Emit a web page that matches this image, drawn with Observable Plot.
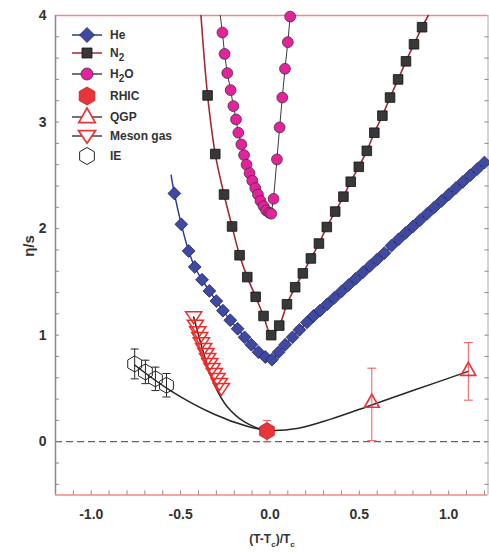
<!DOCTYPE html>
<html><head><meta charset="utf-8">
<script src="https://cdn.jsdelivr.net/npm/d3@7"></script>
<script src="https://cdn.jsdelivr.net/npm/@observablehq/plot@0.6"></script>
<style>html,body{margin:0;padding:0;background:#fff;} svg{display:block}</style>
</head><body><div id="chart"></div>
<script>
// ---- data ----
const He_x = [-0.535,-0.496,-0.455,-0.421,-0.380,-0.339,-0.300,-0.263,-0.222,-0.181,-0.142,-0.104,-0.064,-0.026,0.011,0.048,0.085,0.126,0.165,0.207,0.244,0.28,0.32,0.36,0.40,0.44,0.48,0.52,0.56,0.60,0.64,0.68,0.72,0.76,0.80,0.84,0.88,0.92,0.96,1.00,1.04,1.08,1.12,1.16,1.20];
const He_y = [2.33,2.04,1.79,1.64,1.52,1.415,1.32,1.23,1.14,1.06,0.98,0.91,0.84,0.795,0.77,0.84,0.91,0.98,1.05,1.12,1.18,1.23,1.29,1.35,1.41,1.47,1.53,1.59,1.65,1.71,1.77,1.84,1.90,1.96,2.02,2.08,2.14,2.20,2.26,2.32,2.38,2.44,2.50,2.56,2.62];
const He_lineStart = {x: -0.553, y: 2.50};

const N2_x = [-0.349,-0.306,-0.257,-0.212,-0.170,-0.127,-0.080,-0.036,0.007,0.052,0.095,0.141,0.184,0.229,0.274,0.318,0.365,0.411,0.452,0.497,0.542,0.584,0.629,0.672,0.717,0.761,0.806,0.851];
const N2_y = [3.25,2.70,2.32,2.02,1.75,1.545,1.36,1.18,1.00,1.09,1.29,1.45,1.58,1.72,1.86,2.015,2.16,2.30,2.44,2.58,2.73,2.90,3.06,3.23,3.40,3.57,3.73,3.89];
const N2_lineEnds = [{x: -0.386, y: 4.0}, {x: 0.886, y: 4.0}];

const H2O_x = [-0.266,-0.254,-0.239,-0.220,-0.205,-0.190,-0.177,-0.160,-0.145,-0.131,-0.114,-0.099,-0.082,-0.067,-0.053,-0.036,-0.021,-0.004,0.007,0.020,0.039,0.054,0.069,0.084,0.100,0.113];
const H2O_y = [3.84,3.64,3.46,3.30,3.15,3.025,2.90,2.79,2.69,2.60,2.52,2.45,2.38,2.32,2.26,2.21,2.17,2.15,2.14,2.28,2.65,2.95,3.23,3.50,3.75,3.99];
const H2O_lineStart = {x: -0.278, y: 4.0};

const RHIC_x = [-0.017], RHIC_y = [0.10], RHIC_lo = [0.0], RHIC_hi = [0.20];

const QGP_x = [0.570, 1.110], QGP_y = [0.37, 0.67], QGP_lo = [0.01, 0.39], QGP_hi = [0.69, 0.93];

const Meson_x = [-0.427,-0.417,-0.404,-0.393,-0.384,-0.371,-0.358,-0.349,-0.337,-0.324,-0.311,-0.296,-0.283,-0.272];
const Meson_y = [1.171,1.093,1.030,0.977,0.927,0.874,0.827,0.780,0.734,0.687,0.640,0.593,0.546,0.499];

const IE_x = [-0.757,-0.697,-0.641,-0.579], IE_y = [0.73,0.655,0.59,0.53], IE_err = [0.14,0.11,0.11,0.11];

// theory curves (black)
const curveIE_x = [-0.757,-0.557,-0.315,-0.128,-0.017,0.151,0.337,0.57,0.80,1.11];
const curveIE_y = [0.72,0.48,0.26,0.145,0.108,0.124,0.21,0.345,0.48,0.66];
const curveMeson_x = [-0.427,-0.371,-0.315,-0.240,-0.147,-0.045,-0.017];
const curveMeson_y = [1.17,0.83,0.55,0.33,0.19,0.115,0.108];

// axis ticks
const xTickLabels = [-1.0,-0.5,0.0,0.5,1.0];
const yTickLabels = [0,1,2,3,4];
const xMinorTicks = [-1.1,-1.0,-0.9,-0.8,-0.7,-0.6,-0.5,-0.4,-0.3,-0.2,-0.1,0,0.1,0.2,0.3,0.4,0.5,0.6,0.7,0.8,0.9,1.0,1.1,1.2];
const yMinorTicks = [-0.4,-0.2,0,0.2,0.4,0.6,0.8,1,1.2,1.4,1.6,1.8,2,2.2,2.4,2.6,2.8,3,3.2,3.4,3.6,3.8];

// ---- tables ----
const zip = (xs, ys) => xs.map((x, i) => ({x, y: ys[i]}));
const He = zip(He_x, He_y);
const HeLine = [He_lineStart, ...He];
const N2 = zip(N2_x, N2_y);
const N2Line = [N2_lineEnds[0], ...N2, N2_lineEnds[1]];
const H2O = zip(H2O_x, H2O_y);
const H2OLine = [H2O_lineStart, ...H2O];
const RHIC = RHIC_x.map((x,i)=>({x, y: RHIC_y[i], lo: RHIC_lo[i], hi: RHIC_hi[i]}));
const QGP = QGP_x.map((x,i)=>({x, y: QGP_y[i], lo: QGP_lo[i], hi: QGP_hi[i]}));
const Meson = zip(Meson_x, Meson_y);
const IE = IE_x.map((x,i)=>({x, y: IE_y[i], lo: IE_y[i]-IE_err[i], hi: IE_y[i]+IE_err[i]}));
const curveIE = zip(curveIE_x, curveIE_y);
const curveMeson = zip(curveMeson_x, curveMeson_y);

// ---- symbols ----
const sym = fn => ({draw(c, size){ fn(c, Math.sqrt(size/Math.PI)); }});
const diamondSym = sym((c,r)=>{c.moveTo(0,-r);c.lineTo(r,0);c.lineTo(0,r);c.lineTo(-r,0);c.closePath();});
const squareSym = sym((c,r)=>{c.moveTo(-r,-r);c.lineTo(r,-r);c.lineTo(r,r);c.lineTo(-r,r);c.closePath();});
const hexSym = sym((c,r)=>{for(let k=0;k<6;k++){const a=-Math.PI/2+k*Math.PI/3;const px=r*Math.cos(a),py=r*Math.sin(a);k?c.lineTo(px,py):c.moveTo(px,py);}c.closePath();});
const triUp = sym((c,r)=>{c.moveTo(0,-r);c.lineTo(r*0.92,r*0.62);c.lineTo(-r*0.92,r*0.62);c.closePath();});
const triDown = sym((c,r)=>{c.moveTo(0,r*0.8);c.lineTo(r*0.95,-r*0.6);c.lineTo(-r*0.95,-r*0.6);c.closePath();});
const capSym = sym((c,r)=>{c.moveTo(-r,0);c.lineTo(r,0);});
const circleSym = sym((c,r)=>{c.moveTo(r,0);c.arc(0,0,r,0,2*Math.PI);c.closePath();});

const C = {
  heFill:"#3e4aa2", heStroke:"#1e2260", heLine:"#2e3a9c",
  n2Fill:"#383838", n2Stroke:"#111", n2Line:"#a02c36",
  h2oFill:"#e3239b", h2oStroke:"#4a2a3e", h2oLine:"#3a3a3a",
  red:"#e8353b", redLight:"#ec5a5e", black:"#262626", frameRed:"#f08a8a", axisGray:"#8a8a8a", text:"#333"
};

const svg = Plot.plot({
  width: 489, height: 553,
  marginTop: 15, marginBottom: 58.5, marginLeft: 55, marginRight: 1.5,
  x: {domain: [-1.2, 1.22], label: null},
  y: {domain: [-0.5, 4], label: null},
  style: {fontFamily: "'Liberation Sans', Arial, sans-serif", background: "#fff"},
  marks: [
    Plot.ruleY([0], {stroke: "#666", strokeDasharray: "7,4", strokeWidth: 1.2}),
    Plot.ruleY([4], {stroke: C.frameRed, strokeWidth: 1.5}),
    Plot.ruleY([-0.5], {stroke: C.frameRed, strokeWidth: 1.5}),
    Plot.ruleX([-1.2], {stroke: C.axisGray, strokeWidth: 1.5}),
    Plot.ruleX([1.22], {stroke: "#aaa", strokeWidth: 1}),
    Plot.axisY(yMinorTicks, {anchor: "left", tickSize: 4, dx: 4, tickFormat: () => "", stroke: C.axisGray, label: null}),
    Plot.axisY(yMinorTicks, {anchor: "right", tickSize: 4, dx: -4, tickFormat: () => "", stroke: C.axisGray, label: null}),
    Plot.axisX(xMinorTicks, {anchor: "bottom", tickSize: 4, dy: -4, tickFormat: () => "", stroke: C.axisGray, label: null}),
    Plot.axisY(yTickLabels, {anchor: "left", tickSize: 0, tickPadding: 9, fontSize: 14, fontWeight: "bold", color: C.text, tickFormat: d => String(d), label: null}),
    Plot.axisX(xTickLabels, {anchor: "bottom", tickSize: 0, tickPadding: 14, fontSize: 14, fontWeight: "bold", color: C.text, tickFormat: d => d.toFixed(1), label: null}),

    // theory curves
    Plot.line(curveIE, {x: "x", y: "y", stroke: C.black, strokeWidth: 1.5, curve: "catmull-rom"}),
    Plot.line(curveMeson, {x: "x", y: "y", stroke: C.black, strokeWidth: 1.5, curve: "catmull-rom"}),

    // IE
    Plot.ruleX(IE, {x: "x", y1: "lo", y2: "hi", stroke: C.black, strokeWidth: 1}),
    Plot.dot(IE, {x: "x", y: "lo", symbol: capSym, r: 4, stroke: C.black, strokeWidth: 1}),
    Plot.dot(IE, {x: "x", y: "hi", symbol: capSym, r: 4, stroke: C.black, strokeWidth: 1}),
    Plot.dot(IE, {x: "x", y: "y", symbol: hexSym, r: 8, stroke: C.black, fill: "none", strokeWidth: 1}),

    // Meson gas
    Plot.dot(Meson, {x: "x", y: "y", symbol: triDown, r: 8.5, stroke: "#ee2b2b", fill: "none", strokeWidth: 1.5}),

    // He
    Plot.line(HeLine, {x: "x", y: "y", stroke: C.heLine, strokeWidth: 1.5, curve: "catmull-rom"}),
    Plot.dot(He, {x: "x", y: "y", symbol: diamondSym, r: 6.4, fill: C.heFill, stroke: C.heStroke, strokeWidth: 0.8}),

    // N2
    Plot.line(N2Line, {x: "x", y: "y", stroke: C.n2Line, strokeWidth: 1.6, curve: "catmull-rom"}),
    Plot.dot(N2, {x: "x", y: "y", symbol: squareSym, r: 4.8, fill: C.n2Fill, stroke: C.n2Stroke, strokeWidth: 0.8}),

    // H2O
    Plot.line(H2OLine, {x: "x", y: "y", stroke: C.h2oLine, strokeWidth: 1}),
    Plot.dot(H2O, {x: "x", y: "y", symbol: circleSym, r: 5.4, fill: C.h2oFill, stroke: C.h2oStroke, strokeWidth: 0.8}),

    // RHIC
    Plot.ruleX(RHIC, {x: "x", y1: "lo", y2: "hi", stroke: C.redLight, strokeWidth: 1}),
    Plot.dot(RHIC, {x: "x", y: "lo", symbol: capSym, r: 4, stroke: C.redLight, strokeWidth: 1}),
    Plot.dot(RHIC, {x: "x", y: "hi", symbol: capSym, r: 4, stroke: C.redLight, strokeWidth: 1}),
    Plot.dot(RHIC, {x: "x", y: "y", symbol: hexSym, r: 8.5, fill: C.red, stroke: "#b82024", strokeWidth: 0.8}),

    // QGP
    Plot.ruleX(QGP, {x: "x", y1: "lo", y2: "hi", stroke: C.redLight, strokeWidth: 1}),
    Plot.dot(QGP, {x: "x", y: "lo", symbol: capSym, r: 4.5, stroke: C.redLight, strokeWidth: 1}),
    Plot.dot(QGP, {x: "x", y: "hi", symbol: capSym, r: 4.5, stroke: C.redLight, strokeWidth: 1}),
    Plot.dot(QGP, {x: "x", y: "y", symbol: triUp, r: 8, fill: "none", stroke: C.red, strokeWidth: 1.7})
  ]
});

// ---- legend and axis titles ----
const g = d3.select(svg);
const legendItems = [
  {label: "He", sub: null, line: C.heLine, sym: diamondSym, r: 7.5, fill: C.heFill, stroke: C.heStroke, sw: 0.8},
  {label: "N", sub: "2", line: C.n2Line, sym: squareSym, r: 5, fill: C.n2Fill, stroke: C.n2Stroke, sw: 0.8},
  {label: "H", sub: "2", tail: "O", line: "#444", sym: circleSym, r: 6, fill: C.h2oFill, stroke: C.h2oStroke, sw: 0.8},
  {label: "RHIC", sub: null, line: null, sym: hexSym, r: 9, fill: C.red, stroke: "#b82024", sw: 0.8},
  {label: "QGP", sub: null, line: "#444", sym: triUp, r: 9, fill: "#fff", stroke: C.red, sw: 1.7},
  {label: "Meson gas", sub: null, line: "#444", sym: triDown, r: 9, fill: "#fff", stroke: C.red, sw: 1.7},
  {label: "IE", sub: null, line: null, sym: hexSym, r: 8.5, fill: "#fff", stroke: C.black, sw: 1}
];
const legendRowsY = [35, 53, 74, 96, 117, 136, 156];
const lg = g.append("g").attr("font-family", "'Liberation Sans', Arial, sans-serif").attr("text-anchor", "start");
legendItems.forEach((it, i) => {
  const y = legendRowsY[i];
  if (it.line) lg.append("line").attr("x1", 72).attr("x2", 102).attr("y1", y).attr("y2", y).attr("stroke", it.line).attr("stroke-width", 1.5);
  lg.append("path").attr("transform", `translate(87,${y})`)
    .attr("d", d3.symbol().type(it.sym).size(Math.PI * it.r * it.r)())
    .attr("fill", it.fill).attr("stroke", it.stroke).attr("stroke-width", it.sw);
  const t = lg.append("text").attr("x", 110).attr("y", y).attr("dy", "0.35em").attr("text-anchor", "start")
    .attr("font-size", 12).attr("font-weight", "bold").attr("fill", C.text).text(it.label);
  if (it.sub) t.append("tspan").attr("font-size", 10).attr("dy", "4").text(it.sub);
  if (it.tail) t.append("tspan").attr("font-size", 12).attr("dy", "-4").text(it.tail);
});

// y title
g.append("text").attr("transform", "translate(34,246) rotate(-90)").attr("text-anchor", "middle")
  .attr("font-size", 15).attr("font-weight", "bold").attr("fill", C.text)
  .attr("font-family", "'Liberation Sans', Arial, sans-serif").text("η/s");
// x title
const xt = g.append("text").attr("x", 272).attr("y", 543).attr("text-anchor", "middle")
  .attr("font-size", 12).attr("font-weight", "bold").attr("fill", C.text)
  .attr("font-family", "'Liberation Sans', Arial, sans-serif");
xt.append("tspan").text("(T-T");
xt.append("tspan").attr("font-size", 8).attr("dy", 4).text("c");
xt.append("tspan").attr("dy", -4).text(")/T");
xt.append("tspan").attr("font-size", 8).attr("dy", 4).text("c");

document.getElementById("chart").appendChild(svg);
</script></body></html>
